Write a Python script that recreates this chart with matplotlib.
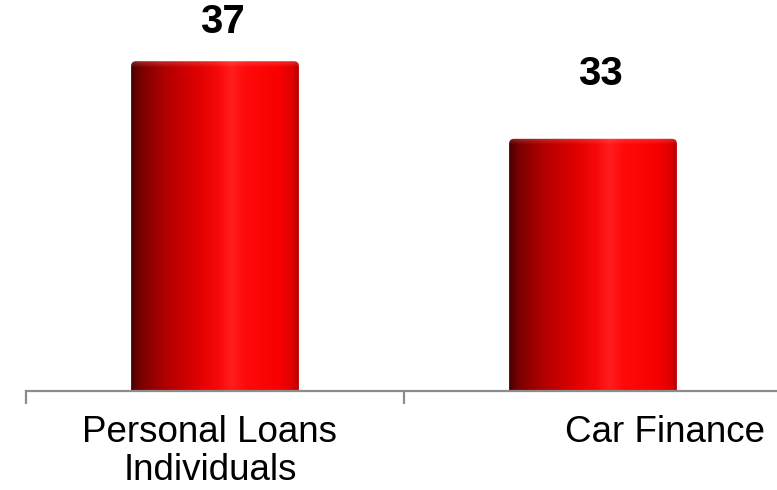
import numpy as np
import matplotlib.pyplot as plt
from matplotlib.patches import FancyBboxPatch
from matplotlib.colors import to_rgb
from matplotlib.transforms import ScaledTranslation

plt.rcParams['font.family'] = ['Liberation Sans', 'DejaVu Sans']

categories = ["Personal Loans\nIndividuals", "Car Finance"]
values = [37, 33]

# horizontal shading across each bar (position, colour) for the cylinder look
stops = [(0.00, "#4a0000"), (0.06, "#7a0000"), (0.20, "#b00000"),
         (0.38, "#dc0000"), (0.52, "#f80808"), (0.60, "#ff1e1e"),
         (0.68, "#ff0a0a"), (0.88, "#f80000"), (0.96, "#e00000"),
         (1.00, "#b80000")]

fig = plt.figure(figsize=(7.77, 4.9), dpi=100)
ax = fig.add_axes([26 / 777, 99 / 490, 756 / 777, 388 / 490])

x = np.arange(len(values))
bar_w = 0.444
ymin, ymax = 20, 40

bars = ax.bar(x, values, width=bar_w, color="none", edgecolor="none")

pos = np.array([s[0] for s in stops])
cols = np.array([to_rgb(s[1]) for s in stops])
ncol = 200
u = np.linspace(0, 1, ncol)
profile = np.stack([np.interp(u, pos, cols[:, c]) for c in range(3)], axis=-1)

px_per_unit = 388 / (ymax - ymin)
for rect, v in zip(bars, values):
    x0, w, h = rect.get_x(), rect.get_width(), rect.get_height()
    # rounded top corners; aspect keeps the corners circular on screen
    shape = FancyBboxPatch((x0, 0), w, h,
                           boxstyle="round,pad=0,rounding_size=0.013",
                           mutation_aspect=378 / px_per_unit,
                           facecolor="none", edgecolor="none")
    ax.add_patch(shape)

    nrow = int((v - ymin) * px_per_unit)
    img = np.repeat(profile[None, :, :], nrow, axis=0)
    # lighter rim along the top of the cylinder
    rim = 7
    k = np.linspace(0.28, 0.0, rim)[:, None, None]
    img[:rim] = img[:rim] * (1 - k) + np.array([1.0, 0.55, 0.55]) * k
    im = ax.imshow(img, extent=[x0, x0 + w, ymin, v], origin="upper",
                   aspect="auto", interpolation="bilinear", zorder=2)
    im.set_clip_path(shape)

ax.set_xlim(-0.5, 1.5)
ax.set_ylim(ymin, ymax)

# value labels above the bars
label_pad = [28, 47]
for xi, v, pad in zip(x, values, label_pad):
    ax.annotate(str(v), xy=(xi, v), xytext=(5, pad), textcoords="offset points",
                ha="center", va="center", fontsize=29, fontweight="bold",
                color="black")

for s in ["top", "left", "right"]:
    ax.spines[s].set_visible(False)
ax.spines["bottom"].set_color("#8c8c8c")
ax.spines["bottom"].set_linewidth(1.6)
ax.set_yticks([])

ax.set_xticks([-0.5, 0.5, 1.5])
ax.set_xticklabels([])
ax.tick_params(axis="x", which="major", length=9.5, width=1.6, color="#8c8c8c",
               direction="out")
ax.set_xticks(x, minor=True)
ax.set_xticklabels(categories, minor=True, fontsize=26.5, linespacing=1.13)
ax.tick_params(axis="x", which="minor", length=0, pad=17)
minor_labels = ax.get_xticklabels(minor=True)
minor_labels[0].set_transform(minor_labels[0].get_transform()
                              + ScaledTranslation(-0.05, 0, fig.dpi_scale_trans))
minor_labels[1].set_transform(minor_labels[1].get_transform()
                              + ScaledTranslation(0.72, 0, fig.dpi_scale_trans))

fig.savefig("out.png", dpi=100)
